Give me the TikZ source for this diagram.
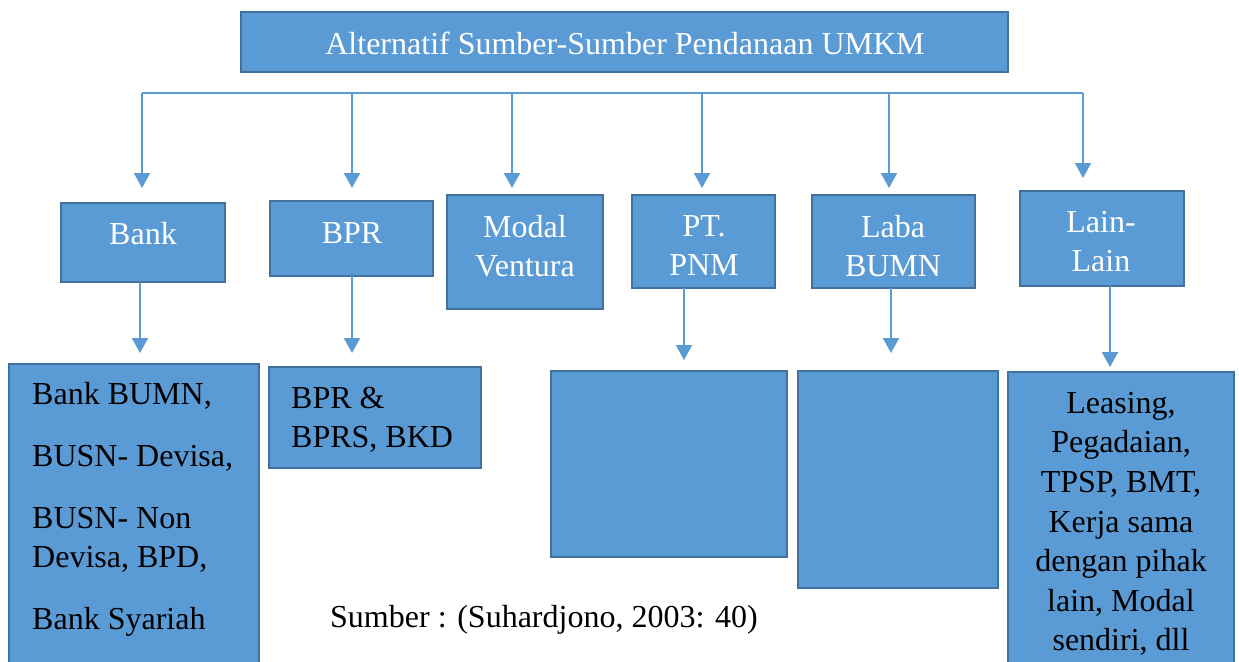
\documentclass[tikz,border=0pt]{standalone}
\usepackage{fontspec}
\setmainfont{Liberation Serif}
\usetikzlibrary{arrows.meta}
\definecolor{boxfill}{HTML}{5B9BD5}
\definecolor{boxline}{HTML}{41719C}
\definecolor{connblue}{HTML}{5B9BD5}
\begin{document}
\begin{tikzpicture}[x=1pt,y=-1pt,
  box/.style={draw=boxline, fill=boxfill, line width=2.4pt, anchor=north west, inner sep=0pt, outer sep=0pt},
  head/.style={font=\fontsize{32}{39}\selectfont, text=white, align=center, inner sep=0pt},
  body/.style={font=\fontsize{32}{39}\selectfont, text=black, inner sep=0pt},
  conn/.style={draw=connblue, line width=2pt},
  arr/.style={conn, -{Triangle[length=15pt,width=16pt]}}]
\path[use as bounding box] (0,0) rectangle (1239,661);
\clip (0,0) rectangle (1239,661);
\fill[white] (0,0) rectangle (1239,661);

% top box
\node[box, minimum width=767pt, minimum height=60pt] (top) at (241,12) {};
\node[head] (topT) at (625,43) {Alternatif Sumber-Sumber Pendanaan UMKM};

% second row
\node[box, minimum width=164pt, minimum height=79pt] (bank) at (61,203) {};
\node[box, minimum width=163pt, minimum height=75pt] (bpr) at (270,201) {};
\node[box, minimum width=156pt, minimum height=114pt] (modal) at (447,195) {};
\node[box, minimum width=143pt, minimum height=93pt] (pnm) at (632,195) {};
\node[box, minimum width=163pt, minimum height=93pt] (laba) at (812,195) {};
\node[box, minimum width=164pt, minimum height=95pt] (lain) at (1020,191) {};
\node[head] (bankT) at (143,234) {Bank};
\node[head] (bprT) at (352,233) {BPR};
\node[head] (modalT) at (525,246) {Modal\\Ventura};
\node[head] (pnmT) at (704,246) {PT.\\PNM};
\node[head] (labaT) at (893,246) {Laba\\BUMN};
\node[head] (lainT) at (1101,242) {Lain-\\Lain};

% third row
\node[box, minimum width=250pt, minimum height=340pt] (banklist) at (9,364) {};
\node[box, minimum width=212pt, minimum height=101pt] (bprlist) at (269,367) {};
\node[box, minimum width=236pt, minimum height=186pt] (pnmbox) at (551,371) {};
\node[box, minimum width=200pt, minimum height=217pt] (lababox) at (798,371) {};
\node[box, minimum width=226pt, minimum height=330pt] (lainlist) at (1008,372) {};
\node[body, anchor=north west, align=left] (banklistT) at (32,382)
  {Bank BUMN,\\[23pt] BUSN- Devisa,\\[23pt] BUSN- Non\\ Devisa, BPD,\\[23pt] Bank Syariah};
\node[body, anchor=north west, align=left] (bprlistT) at (291,387) {BPR \&\\ BPRS, BKD};
\node[body, anchor=north, align=center, font=\fontsize{32}{39.6}\selectfont] (lainlistT) at (1121,392)
  {Leasing,\\ Pegadaian,\\ TPSP, BMT,\\ Kerja sama\\ dengan pihak\\ lain, Modal\\ sendiri, dll};
\node[body, anchor=west] (src) at (330,620) {Sumber : (Suhardjono, 2003: 40)};

% bus and arrows
\coordinate (b1) at (142,93);
\coordinate (b2) at (352,93);
\coordinate (b3) at (512,93);
\coordinate (b4) at (702,93);
\coordinate (b5) at (889,93);
\coordinate (b6) at (1083,93);
\coordinate (t1) at (142,188);
\coordinate (t2) at (352,188);
\coordinate (t3) at (512,188);
\coordinate (t4) at (702,188);
\coordinate (t5) at (889,188);
\coordinate (t6) at (1083,178);
\draw[conn] (b1) -- (b6);
\foreach \i in {1,...,6} { \draw[arr] (b\i) -- (t\i); }

\coordinate (d1) at (140,353);
\coordinate (d2) at (352,353);
\coordinate (d4) at (684,360);
\coordinate (d5) at (891,353);
\coordinate (d6) at (1110,367);
\draw[arr] (bank.south -| d1) -- (d1);
\draw[arr] (bpr.south -| d2) -- (d2);
\draw[arr] (pnm.south -| d4) -- (d4);
\draw[arr] (laba.south -| d5) -- (d5);
\draw[arr] (lain.south -| d6) -- (d6);
\end{tikzpicture}
\end{document}
